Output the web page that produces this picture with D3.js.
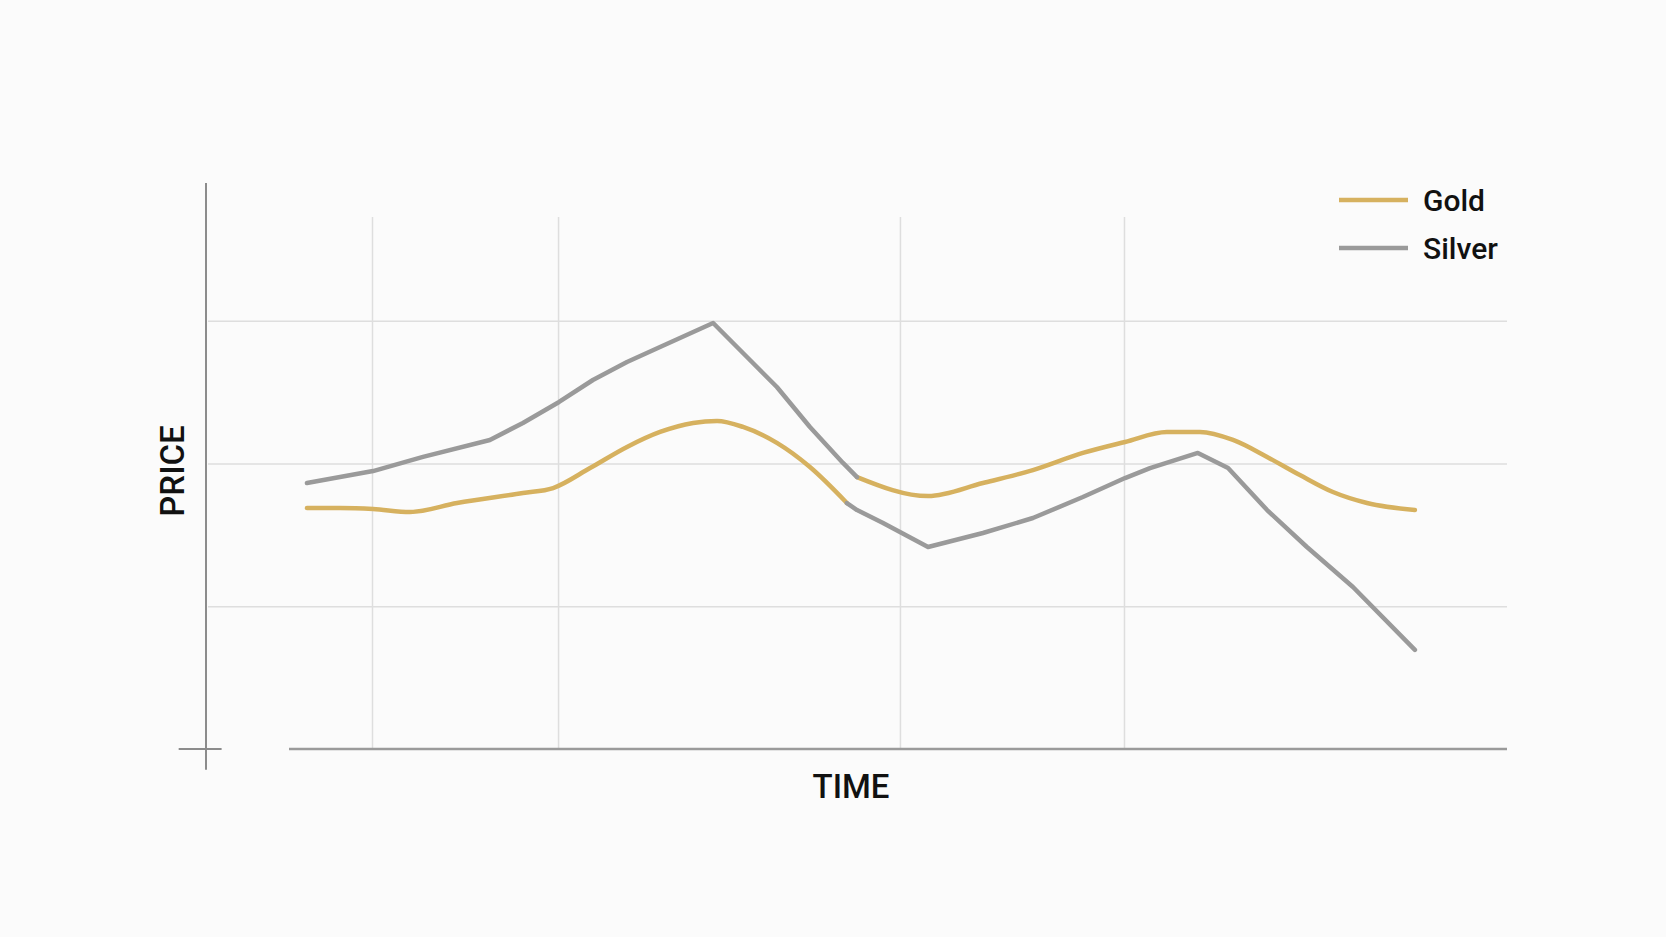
<!DOCTYPE html>
<html>
<head>
<meta charset="utf-8">
<script src="https://cdn.jsdelivr.net/npm/d3@7"></script>
<style>
  html, body { margin: 0; padding: 0; background: #fbfbfb; }
  svg { display: block; font-family: Roboto, "Noto Sans", sans-serif; }
</style>
</head>
<body>
<svg id="chart"></svg>
<script>
// gold and silver strokes swap colour where they meet near t=25, so each series has a gap (null)
const goldTimes  = [3.88, 5.15, 6.42, 7.84, 9.65, 12.18, 13.34, 14.76, 16.18, 17.45, 18.72, 19.64, 20.64, 21.94, 23.21, 24.63, null,
                    25.02, 27.75, 29.86, 31.78, 33.70, 35.32, 36.93, 38.20, 39.47, 40.78, 42.04, 43.31, 44.62, 46.46];
const goldPrices = [168.8, 168.8, 168.1, 166.0, 172.3, 179.3, 182.8, 196.8, 211.6, 222.1, 228.4, 229.8, 225.6, 214.4, 197.5, 172.3, null,
                    190.5, 177.2, 186.3, 195.4, 207.4, 215.1, 222.1, 222.1, 216.5, 204.6, 191.9, 180.0, 172.3, 167.4];

const silverTimes  = [3.88, 6.42, 8.34, 10.91, 12.18, 13.57, 14.87, 16.18, 17.45, 19.49, 20.79, 21.94, 23.21, 24.48, 25.02, null,
                      24.63, 25.02, 26.02, 27.75, 29.86, 31.78, 33.70, 35.32, 36.28, 38.12, 39.28, 40.78, 42.31, 44.08, 46.46];
const silverPrices = [186.3, 194.7, 204.6, 216.5, 228.4, 243.1, 258.5, 271.1, 281.6, 298.4, 274.6, 253.6, 225.6, 200.4, 190.5, null,
                      172.3, 167.4, 158.3, 141.5, 151.3, 161.8, 176.5, 189.8, 196.8, 207.4, 196.8, 167.4, 141.5, 113.5, 69.4];

const timeGrid  = [6.38, 13.53, 26.67, 35.28];
const priceGrid = [100, 200, 300];

const seriesNames  = ["Gold", "Silver"];
const seriesColors = ["#d6b15f", "#9a9a9a"];

const svg_size = {width: 1666, height: 937};
const plot_left = 206, plot_right = 1507, plot_bottom = 749;

const svg = d3.select("#chart")
    .attr("width", svg_size.width)
    .attr("height", svg_size.height);

const x = d3.scaleLinear().domain([0, 50]).range([plot_left, plot_right]);
const y = d3.scaleLinear().domain([0, 400]).range([plot_bottom, 178]);

// grid
const vGrid = svg.append("g")
    .attr("transform", `translate(0,${plot_bottom})`)
    .call(d3.axisBottom(x).tickValues(timeGrid).tickSize(-(plot_bottom - y(372.7))).tickFormat(""));
const hGrid = svg.append("g")
    .attr("transform", `translate(${plot_left + 2},0)`)
    .call(d3.axisLeft(y).tickValues(priceGrid).tickSize(-(plot_right - plot_left - 2)).tickFormat(""));
[vGrid, hGrid].forEach(g => {
    g.select(".domain").remove();
    g.selectAll(".tick line").attr("stroke", "#dedede").attr("stroke-width", 1.5);
});

// axes
svg.append("line")
    .attr("x1", x(0)).attr("x2", x(0))
    .attr("y1", y(396.5)).attr("y2", y(-14.5))
    .attr("stroke", "#8c8c8c").attr("stroke-width", 2);
svg.append("line")
    .attr("x1", x(-1.05)).attr("x2", x(0.6))
    .attr("y1", y(0)).attr("y2", y(0))
    .attr("stroke", "#8c8c8c").attr("stroke-width", 2);
svg.append("line")
    .attr("x1", x(3.19)).attr("x2", x(50))
    .attr("y1", y(0)).attr("y2", y(0))
    .attr("stroke", "#9a9a9a").attr("stroke-width", 2.5);

// axis titles
svg.append("text")
    .attr("transform", `translate(184,471) rotate(-90)`)
    .attr("text-anchor", "middle")
    .attr("font-size", 33)
    .attr("font-weight", 500)
    .attr("fill", "#111")
    .text("PRICE");
svg.append("text")
    .attr("x", 851)
    .attr("y", 798)
    .attr("text-anchor", "middle")
    .attr("font-size", 33)
    .attr("font-weight", 500)
    .attr("fill", "#111")
    .text("TIME");

// lines
const series = [
    {name: "Gold", times: goldTimes, prices: goldPrices, curve: d3.curveMonotoneX},
    {name: "Silver", times: silverTimes, prices: silverPrices, curve: d3.curveLinear}
];

series.forEach((s, i) => {
    const data = s.times.map((t, j) => ({t: t, p: s.prices[j]}));
    const line = d3.line()
        .defined(d => d.t != null && d.p != null)
        .x(d => x(d.t))
        .y(d => y(d.p))
        .curve(s.curve);
    svg.append("path")
        .datum(data)
        .attr("fill", "none")
        .attr("stroke", seriesColors[seriesNames.indexOf(s.name)])
        .attr("stroke-width", 4.5)
        .attr("stroke-linejoin", "round")
        .attr("stroke-linecap", "round")
        .attr("d", line);
});

// legend
const legend = svg.append("g").attr("transform", "translate(1339,200)");
seriesNames.forEach((name, i) => {
    const row = legend.append("g").attr("transform", `translate(0,${i * 48})`);
    row.append("line")
        .attr("x1", 0).attr("x2", 69)
        .attr("stroke", seriesColors[i])
        .attr("stroke-width", 4.5);
    row.append("text")
        .attr("x", 84)
        .attr("y", 0)
        .attr("dy", "0.35em")
        .attr("font-size", 30)
        .attr("font-weight", 500)
        .attr("fill", "#111")
        .text(name);
});
</script>
</body>
</html>
